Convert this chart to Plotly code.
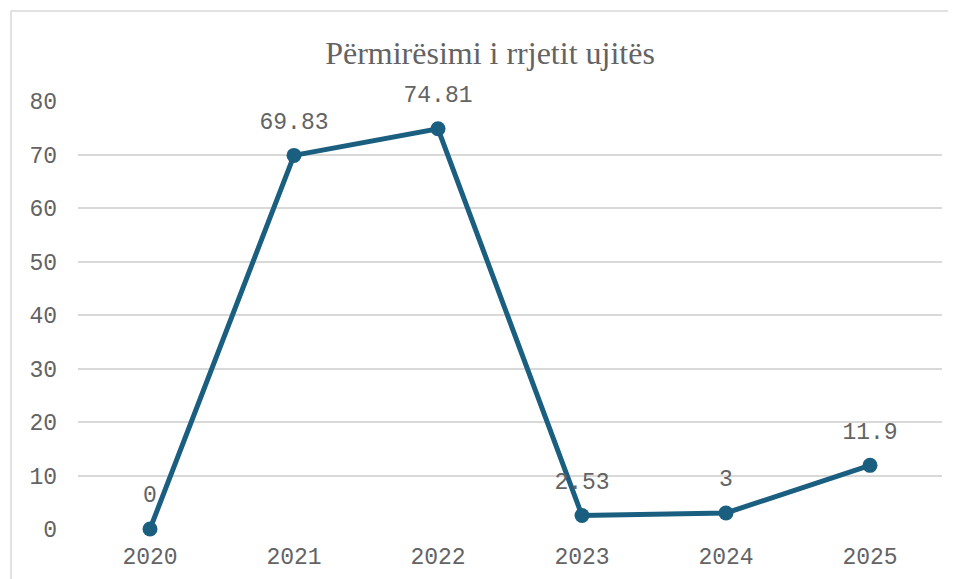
import plotly.graph_objects as go

years = ["2020", "2021", "2022", "2023", "2024", "2025"]
values = [0, 69.83, 74.81, 2.53, 3, 11.9]
labels = ["0", "69.83", "74.81", "2.53", "3", "11.9"]
y_ticks = [0, 10, 20, 30, 40, 50, 60, 70, 80]

color = "#1A5F80"
gray = "#636363"
mono = "Liberation Mono, Courier New, monospace"

# page body has an 8px margin, so the figure is laid out inside it
W, H = 940, 571

fig = go.Figure()
fig.add_trace(go.Scatter(
    x=years, y=values, mode="lines+markers",
    line=dict(color=color, width=5),
    marker=dict(color=color, size=15),
    cliponaxis=False, hoverinfo="skip",
))
# data labels (transparent large markers push text upward)
fig.add_trace(go.Scatter(
    x=years, y=values, mode="markers+text",
    marker=dict(color="rgba(0,0,0,0)", size=32),
    text=labels, textposition="top center",
    textfont=dict(family=mono, size=23, color=gray),
    cliponaxis=False, hoverinfo="skip",
))

border = dict(color="#D9D9D9", width=1.5)
fig.update_layout(
    width=W, height=H,
    margin=dict(l=70, r=6, t=93, b=50),
    paper_bgcolor="white", plot_bgcolor="white",
    showlegend=False,
    title=dict(text="Përmirësimi i rrjetit ujitës", xref="paper", x=(490 - 78) / 864,
               xanchor="center", y=1 - 45 / H, yanchor="middle",
               font=dict(family="Liberation Serif, Times New Roman, serif", size=32, color=gray)),
    xaxis=dict(type="category", range=[-0.5, 5.5], showgrid=False, showline=False,
               zeroline=False, ticks="", ticklabelstandoff=11, automargin=False,
               tickfont=dict(family=mono, size=23, color=gray)),
    yaxis=dict(range=[0, 80], tickvals=y_ticks, showgrid=True, gridcolor="#D9D9D9",
               gridwidth=1.5, zeroline=False, showline=False, ticks="",
               ticklabelstandoff=20, automargin=False,
               tickfont=dict(family=mono, size=23, color=gray)),
    shapes=[
        dict(type="line", xref="paper", yref="paper",
             x0=(3 - 70) / 864, x1=(3 - 70) / 864, y0=-0.2, y1=1 + (93 - 3) / 428,
             line=border, layer="below"),
        dict(type="line", xref="paper", yref="paper",
             x0=(3 - 70) / 864, x1=1.2, y0=1 + (93 - 3) / 428, y1=1 + (93 - 3) / 428,
             line=border, layer="below"),
    ],
)

fig.write_html("out.html")
